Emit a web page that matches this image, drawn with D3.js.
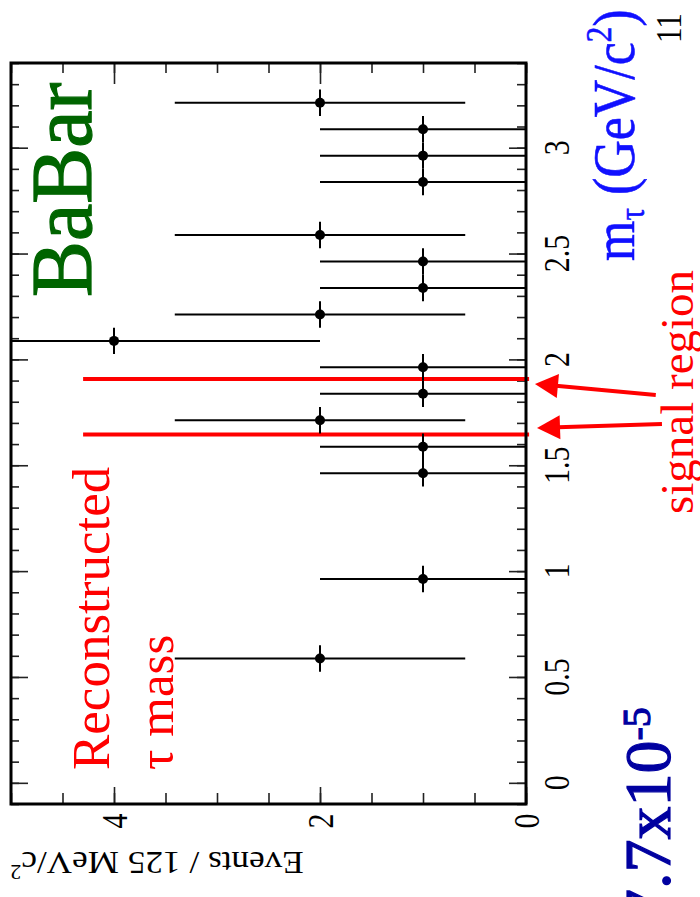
<!DOCTYPE html>
<html>
<head>
<meta charset="utf-8">
<script src="https://cdn.jsdelivr.net/npm/d3@7"></script>
<style>
  html, body { margin: 0; padding: 0; background: #fff; }
  svg { display: block; }
  text { font-family: "Liberation Serif", "Times New Roman", serif; }
</style>
</head>
<body>
<script>
// bin centres of the reconstructed tau mass (GeV/c^2), 125 MeV bins
var binCenters = [0.5875, 0.9625, 1.4625, 1.5875, 1.7125, 1.8375, 1.9625, 2.0875,
                  2.2125, 2.3375, 2.4625, 2.5875, 2.8375, 2.9625, 3.0875, 3.2125];
var counts     = [2, 1, 1, 1, 2, 1, 1, 4, 2, 1, 1, 2, 1, 1, 1, 2];
var countErrs  = [1.41, 1, 1, 1, 1.41, 1, 1, 2, 1.41, 1, 1, 1.41, 1, 1, 1, 1.41];
var binHalf = 0.0625;

var massTicks  = [0, 0.5, 1, 1.5, 2, 2.5, 3];
var massLabels = ["0", "0.5", "1", "1.5", "2", "2.5", "3"];
var eventTicks = [0, 2, 4];

// signal region lines (mass) and how far they reach in events
var signalRegion = [1.645, 1.907];
var signalReach  = [4.3, -0.03];

// arrow annotations [events, mass]
var arrowTails = [[-1.26, 1.832], [-1.32, 1.695]];
var arrowTips  = [[-0.087, 1.884], [-0.107, 1.676]];

var W = 700, H = 897;
var frame = {left: 11, right: 526, top: 63, bottom: 804};

// whole plot is turned on its side: mass runs up, events run leftwards
var y = d3.scaleLinear().domain([-0.1, 3.4]).range([frame.bottom, frame.top]);
var x = d3.scaleLinear().domain([0, 5]).range([frame.right, frame.left]);

var svg = d3.select('body').append('svg')
  .attr('width', W).attr('height', H);

// tick marks on all four edges, pointing inside
var minorMass = d3.range(-1, 35).map(function(i) { return i / 10; });
var minorEv = d3.range(0, 11).map(function(i) { return i / 2; });

function ticks(axis, tx, ty) {
  var g = svg.append('g')
    .attr('transform', 'translate(' + tx + ',' + ty + ')')
    .call(axis.tickFormat(''));
  g.select('.domain').remove();
  g.selectAll('line').attr('stroke', '#222').attr('stroke-width', 1.6);
}
ticks(d3.axisLeft(y).tickValues(minorMass).tickSize(9), frame.right, 0);
ticks(d3.axisLeft(y).tickValues(massTicks).tickSize(17), frame.right, 0);
ticks(d3.axisRight(y).tickValues(minorMass).tickSize(8), frame.left, 0);
ticks(d3.axisRight(y).tickValues(massTicks).tickSize(17), frame.left, 0);
ticks(d3.axisTop(x).tickValues(minorEv).tickSize(11), 0, frame.bottom);
ticks(d3.axisTop(x).tickValues(eventTicks).tickSize(17), 0, frame.bottom);
ticks(d3.axisBottom(x).tickValues(minorEv).tickSize(10), 0, frame.top);
ticks(d3.axisBottom(x).tickValues(eventTicks).tickSize(21), 0, frame.top);

// signal region lines
svg.selectAll('line.sig')
  .data(signalRegion)
  .enter().append('line')
    .attr('class', 'sig')
    .attr('x1', x(signalReach[0])).attr('x2', x(signalReach[1]))
    .attr('y1', function(d) { return y(d); })
    .attr('y2', function(d) { return y(d); })
    .attr('stroke', '#ff0000').attr('stroke-width', 4);

// data points with errors
var pts = binCenters.map(function(c, i) {
  return {m: c, n: counts[i], e: countErrs[i]};
});
var dg = svg.append('g');
dg.selectAll('line.ey')
  .data(pts).enter().append('line')
    .attr('x1', function(d) { return x(Math.min(5, d.n + d.e)); })
    .attr('x2', function(d) { return x(Math.max(0, d.n - d.e)); })
    .attr('y1', function(d) { return y(d.m); })
    .attr('y2', function(d) { return y(d.m); })
    .attr('stroke', '#000').attr('stroke-width', 2);
dg.selectAll('line.ex')
  .data(pts).enter().append('line')
    .attr('x1', function(d) { return x(d.n); })
    .attr('x2', function(d) { return x(d.n); })
    .attr('y1', function(d) { return y(d.m - binHalf); })
    .attr('y2', function(d) { return y(d.m + binHalf); })
    .attr('stroke', '#000').attr('stroke-width', 2);
dg.selectAll('circle')
  .data(pts).enter().append('circle')
    .attr('cx', function(d) { return x(d.n); })
    .attr('cy', function(d) { return y(d.m); })
    .attr('r', 5)
    .attr('fill', '#000');

// frame
svg.append('rect')
  .attr('x', frame.left).attr('y', frame.top)
  .attr('width', frame.right - frame.left)
  .attr('height', frame.bottom - frame.top)
  .attr('fill', 'none').attr('stroke', '#000').attr('stroke-width', 3);

// tick labels
svg.selectAll('text.mlab')
  .data(massTicks).enter().append('text')
    .attr('transform', function(d) { return 'translate(556,' + y(d) + ') scale(1.2,1) rotate(-90)'; })
    .attr('text-anchor', 'middle').attr('dy', '0.35em')
    .attr('font-size', 30)
    .text(function(d, i) { return massLabels[i]; });

svg.selectAll('text.elab')
  .data(eventTicks).enter().append('text')
    .attr('transform', function(d) { return 'translate(' + x(d) + ',821) scale(1.2,1) rotate(-90)'; })
    .attr('text-anchor', 'middle').attr('dy', '0.35em')
    .attr('font-size', 30)
    .text(function(d) { return d; });

// axis titles
var mt = svg.append('text')
  .attr('transform', 'translate(634,261) scale(1.15,1) rotate(-90)')
  .attr('font-size', 52).attr('fill', '#1010ff')
  .attr('stroke', '#1010ff').attr('stroke-width', 0.5);
mt.append('tspan').text('m');
mt.append('tspan').attr('font-size', 31).attr('dy', 9).text('τ');
mt.append('tspan').attr('dy', -9).text(' (GeV/c');
mt.append('tspan').attr('font-size', 31).attr('dy', -20).text('2');
mt.append('tspan').attr('dy', 20).text(')');

var et = svg.append('text')
  .attr('transform', 'translate(157,852) scale(1.1,1) rotate(180)')
  .attr('text-anchor', 'middle')
  .attr('font-size', 32).attr('fill', '#000');
et.append('tspan').text('Events / 125 MeV/c');
et.append('tspan').attr('font-size', 20).attr('dy', -13).text('2');

// annotations
svg.append('text')
  .attr('transform', 'translate(91,297) scale(1.04,1) rotate(-90)')
  .attr('font-size', 84).attr('fill', '#006400')
  .attr('stroke', '#006400').attr('stroke-width', 1.2)
  .text('BaBar');

svg.append('text')
  .attr('transform', 'translate(109,770) rotate(-90)')
  .attr('font-size', 53).attr('fill', '#ff0000')
  .text('Reconstructed');
svg.append('text')
  .attr('transform', 'translate(173,770) rotate(-90)')
  .attr('font-size', 51).attr('fill', '#ff0000')
  .text('τ mass');
svg.append('text')
  .attr('transform', 'translate(693,514) rotate(-90)')
  .attr('font-size', 47).attr('fill', '#ff0000')
  .text('signal region');

var bt = svg.append('text')
  .attr('transform', 'translate(670,922) rotate(-90)')
  .attr('font-size', 66).attr('fill', '#0000a0')
  .attr('stroke', '#0000a0').attr('stroke-width', 1.2);
bt.append('tspan').text('7.7x10');
bt.append('tspan').attr('font-size', 40).attr('dy', -20).text('-5');

svg.append('text')
  .attr('transform', 'translate(681,43) scale(1.15,1) rotate(-90)')
  .attr('font-family', '"Liberation Sans", Arial, sans-serif')
  .attr('font-size', 31).attr('fill', '#000')
  .text('11');

// arrows pointing at the signal region lines
var headLen = 23, headHalf = 12;
arrowTips.forEach(function(tip, i) {
  var tx = x(tip[0]), ty = y(tip[1]);
  var sx = x(arrowTails[i][0]), sy = y(arrowTails[i][1]);
  var dx = sx - tx, dy = sy - ty, len = Math.sqrt(dx * dx + dy * dy);
  var ux = dx / len, uy = dy / len;
  var bx = tx + ux * headLen, by = ty + uy * headLen;
  svg.append('line')
    .attr('x1', sx).attr('y1', sy).attr('x2', bx - ux * 2).attr('y2', by - uy * 2)
    .attr('stroke', '#ff0000').attr('stroke-width', 4);
  svg.append('polygon')
    .attr('points', [[tx, ty], [bx - uy * headHalf, by + ux * headHalf], [bx + uy * headHalf, by - ux * headHalf]].join(' '))
    .attr('fill', '#ff0000');
});
</script>
</body>
</html>
